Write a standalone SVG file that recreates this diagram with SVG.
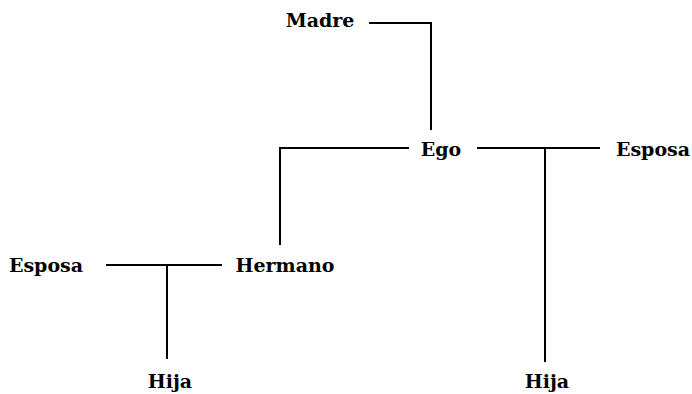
<svg xmlns="http://www.w3.org/2000/svg" width="692" height="394" viewBox="0 0 692 394">
<style>
.n{font-family:"DejaVu Serif","Liberation Serif",serif;font-weight:bold;font-size:19px;fill:#000;text-anchor:middle}
.c{fill:none;stroke:#000;stroke-width:2}
</style>
<rect width="692" height="394" fill="#fff"/>
<g id="connectors">
<path class="c" d="M369 23H431V130"/>
<path class="c" d="M409 148H280V245"/>
<path class="c" d="M477 148H600"/>
<path class="c" d="M545 148V362"/>
<path class="c" d="M106 265H222"/>
<path class="c" d="M167 265V359"/>
</g>
<g id="madre"><text class="n" x="320" y="27">Madre</text></g>
<g id="ego"><text class="n" x="441" y="156">Ego</text></g>
<g id="esposa-ego"><text class="n" x="653" y="156">Esposa</text></g>
<g id="esposa-hermano"><text class="n" x="46" y="272">Esposa</text></g>
<g id="hermano"><text class="n" x="285" y="272">Hermano</text></g>
<g id="hija-hermano"><text class="n" x="170" y="388">Hija</text></g>
<g id="hija-ego"><text class="n" x="547" y="388">Hija</text></g>
</svg>
